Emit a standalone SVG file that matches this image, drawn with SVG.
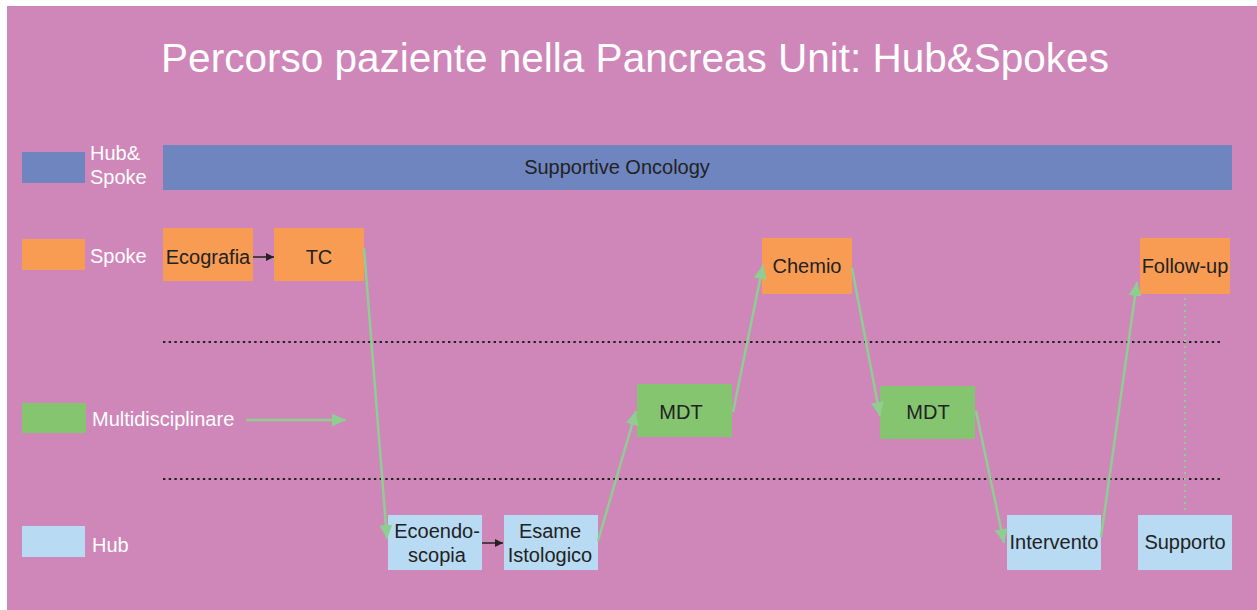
<svg xmlns="http://www.w3.org/2000/svg" width="1257" height="610" viewBox="0 0 1257 610">
<defs>
<style>
text{font-family:"Liberation Sans",Arial,sans-serif;}
.lbl{fill:#ffffff;font-size:20px;}
.t{fill:#222222;font-size:20px;text-anchor:middle;}
.spoke{fill:#F89C54;}
.hub{fill:#B8DBF3;}
.mdt{fill:#85C570;}
.hs{fill:#6E85C0;}
.g{stroke:#8FCE91;stroke-width:2.5;fill:none;marker-end:url(#ga);}
.k{stroke:#222222;stroke-width:1.5;fill:none;marker-end:url(#ka);}
.dot{stroke:#222222;stroke-width:2;stroke-dasharray:2.4 3.3;fill:none;}
</style>
<marker id="ga" markerUnits="userSpaceOnUse" markerWidth="15" markerHeight="13" refX="14" refY="6.5" orient="auto">
<path d="M0,0 L14,6.5 L0,13 z" fill="#8FCE91"/>
</marker>
<marker id="ka" markerUnits="userSpaceOnUse" markerWidth="9" markerHeight="8" refX="8" refY="4" orient="auto">
<path d="M0,0 L8,4 L0,8 z" fill="#222222"/>
</marker>
</defs>
<rect x="7" y="6" width="1250" height="604" fill="#CF86B9"/>
<text x="635" y="72" fill="#ffffff" font-size="40.5" text-anchor="middle">Percorso paziente nella Pancreas Unit: Hub&amp;Spokes</text>

<g id="legend">
<rect class="hs" x="22" y="152" width="63" height="31"/>
<text class="lbl" x="90" y="160">Hub&amp;</text>
<text class="lbl" x="90" y="184">Spoke</text>
<rect class="spoke" x="22" y="239" width="63" height="31"/>
<text class="lbl" x="90" y="263">Spoke</text>
<rect class="mdt" x="22" y="403" width="64" height="30"/>
<text class="lbl" x="92" y="426">Multidisciplinare</text>
<rect class="hub" x="22" y="526" width="63" height="31"/>
<text class="lbl" x="92" y="552">Hub</text>
</g>

<g id="separators">
<line class="dot" x1="163" y1="342" x2="1220" y2="342"/>
<line class="dot" x1="163" y1="479" x2="1220" y2="479"/>
</g>

<g id="supportive-oncology">
<rect class="hs" x="163" y="145" width="1069" height="45"/>
<text class="t" x="617" y="174">Supportive Oncology</text>
</g>
<g id="ecografia">
<rect class="spoke" x="163" y="228" width="90" height="53"/>
<text class="t" x="208" y="264">Ecografia</text>
</g>
<g id="tc">
<rect class="spoke" x="274" y="228" width="90" height="53"/>
<text class="t" x="319" y="264">TC</text>
</g>
<g id="ecoendoscopia">
<rect class="hub" x="388" y="515" width="94" height="55"/>
<text class="t" x="437" y="538">Ecoendo-</text>
<text class="t" x="437" y="562">scopia</text>
</g>
<g id="esame-istologico">
<rect class="hub" x="504" y="515" width="94" height="55"/>
<text class="t" x="550" y="538">Esame</text>
<text class="t" x="550" y="562">Istologico</text>
</g>
<g id="mdt1">
<rect class="mdt" x="637" y="384" width="95" height="53"/>
<text class="t" x="681" y="419">MDT</text>
</g>
<g id="chemio">
<rect class="spoke" x="762" y="238" width="90" height="56"/>
<text class="t" x="807" y="273">Chemio</text>
</g>
<g id="mdt2">
<rect class="mdt" x="880" y="386" width="95" height="53"/>
<text class="t" x="928" y="419">MDT</text>
</g>
<g id="intervento">
<rect class="hub" x="1007" y="515" width="94" height="55"/>
<text class="t" x="1054" y="549">Intervento</text>
</g>
<g id="follow-up">
<rect class="spoke" x="1140" y="238" width="90" height="56"/>
<text class="t" x="1185" y="273">Follow-up</text>
</g>
<g id="supporto">
<rect class="hub" x="1138" y="515" width="94" height="55"/>
<text class="t" x="1185" y="549">Supporto</text>
</g>

<g id="connectors">
<line class="k" x1="253" y1="257" x2="274" y2="257"/>
<line class="k" x1="482" y1="543" x2="503" y2="543"/>
<line class="g" x1="246" y1="420" x2="346" y2="420"/>
<line class="g" x1="364" y1="248" x2="387" y2="539"/>
<line class="g" x1="598" y1="541" x2="636" y2="411"/>
<line class="g" x1="733" y1="412" x2="763" y2="265"/>
<line class="g" x1="852" y1="268" x2="880" y2="416"/>
<line class="g" x1="976" y1="411" x2="1004" y2="543"/>
<line class="g" x1="1101" y1="537" x2="1137" y2="282"/>
<line x1="1185" y1="298" x2="1185" y2="511" stroke="#8FCE91" stroke-width="2" stroke-dasharray="2 4"/>
</g>
</svg>
